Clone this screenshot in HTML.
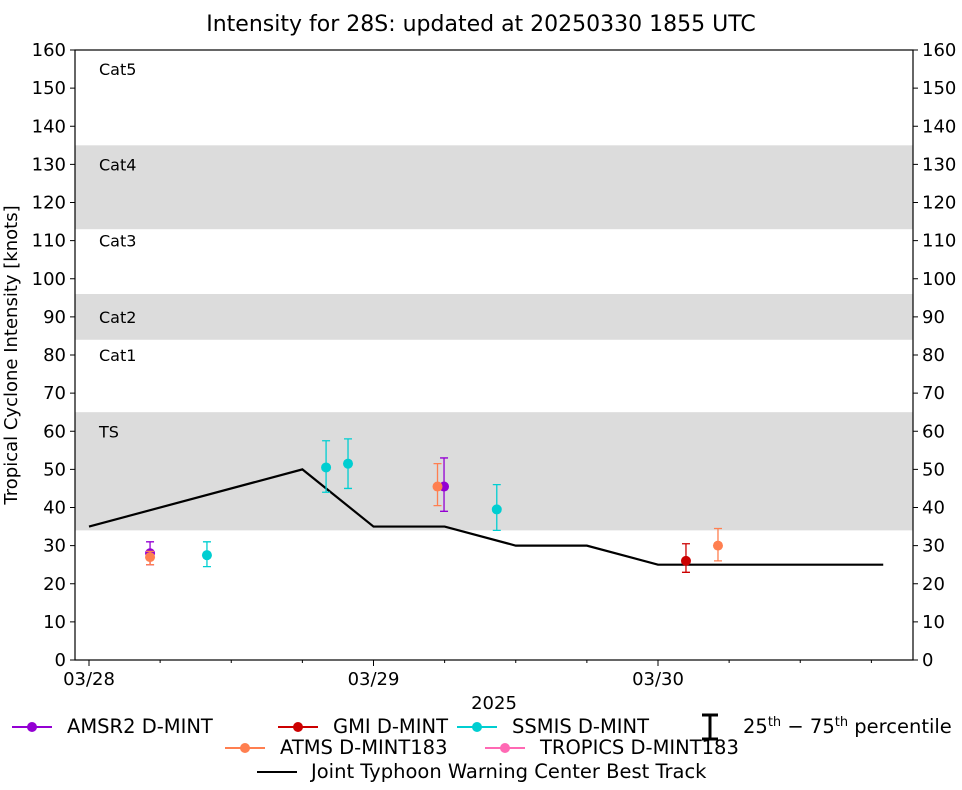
<!DOCTYPE html>
<html><head><meta charset="utf-8"><style>
body{margin:0;background:#fff;}
svg text{font-family:"DejaVu Sans","Liberation Sans",sans-serif;}
</style></head><body>
<svg id="c" width="962" height="785" viewBox="0 0 962 785">
<text x="481" y="31" font-size="22" text-anchor="middle">Intensity for 28S: updated at 20250330 1855 UTC</text>
<g id="bands"></g>
<g id="axes"></g>
<g id="track"></g>
<g id="pts"></g>
<g id="legend" font-size="19.5">
<g><line x1="12" y1="727" x2="52" y2="727" stroke="#9400d3" stroke-width="2"/><circle cx="32" cy="727" r="5" fill="#9400d3"/><text x="67" y="733">AMSR2 D-MINT</text></g>
<g><line x1="278" y1="727" x2="318" y2="727" stroke="#cc0000" stroke-width="2"/><circle cx="298" cy="727" r="5" fill="#cc0000"/><text x="333" y="733">GMI D-MINT</text></g>
<g><line x1="457" y1="727" x2="497" y2="727" stroke="#00ced1" stroke-width="2"/><circle cx="477" cy="727" r="5" fill="#00ced1"/><text x="512" y="733">SSMIS D-MINT</text></g>
<g><path d="M702 715H718M710 715V739M702 739H718" stroke="#000" stroke-width="3" fill="none"/><text x="743" y="733">25<tspan font-size="13" dy="-7">th</tspan><tspan dy="7"> − 75</tspan><tspan font-size="13" dy="-7">th</tspan><tspan dy="7"> percentile</tspan></text></g>
<g><line x1="225" y1="748" x2="265" y2="748" stroke="#ff7f50" stroke-width="2"/><circle cx="245" cy="748" r="5" fill="#ff7f50"/><text x="280" y="754">ATMS D-MINT183</text></g>
<g><line x1="485" y1="748" x2="525" y2="748" stroke="#ff69b4" stroke-width="2"/><circle cx="505" cy="748" r="5" fill="#ff69b4"/><text x="540" y="754">TROPICS D-MINT183</text></g>
<g><line x1="257" y1="772" x2="297" y2="772" stroke="#000" stroke-width="2"/><text x="311" y="778">Joint Typhoon Warning Center Best Track</text></g>
</g>
</svg>
<script>
const NS="http://www.w3.org/2000/svg";
const bandLo=[34,84,113];
const bandHi=[65,96,135];
const catNames=["TS","Cat1","Cat2","Cat3","Cat4","Cat5"];
const catVals=[60,80,90,110,130,155];
const yTicks=[0,10,20,30,40,50,60,70,80,90,100,110,120,130,140,150,160];
const dayLabels=["03/28","03/29","03/30"];
const trackHours=[0,18,24,30,36,42,48,54,60,67];
const trackVals=[35,50,35,35,30,30,25,25,25,25];
const amsr2Hours=[5.15,29.95];const amsr2Vals=[28,45.5];const amsr2Lo=[25,39];const amsr2Hi=[31,53];
const atmsHours=[5.15,29.4,53.06];const atmsVals=[27,45.5,30];const atmsLo=[25,40.5,26];const atmsHi=[28.5,51.5,34.5];
const ssmisHours=[9.95,20,21.85,34.4];const ssmisVals=[27.5,50.5,51.5,39.5];const ssmisLo=[24.5,44,45,34];const ssmisHi=[31,57.5,58,46];
const gmiHours=[50.36];const gmiVals=[26];const gmiLo=[23];const gmiHi=[30.5];
const X0=75,X1=913,Y0=50,Y1=660;
const x=h=>89+h*284.5/24, y=v=>Y1-v*(Y1-Y0)/160;
function mk(t,a,p){const e=document.createElementNS(NS,t);for(const k in a)e.setAttribute(k,a[k]);p.appendChild(e);return e;}
const bands=document.getElementById('bands');
bandLo.forEach((lo,i)=>{const r=mk('rect',{x:X0,y:y(bandHi[i]),width:X1-X0,height:y(lo)-y(bandHi[i]),fill:'#dcdcdc'},bands);

});
catNames.forEach((n,i)=>{const t=mk('text',{x:99,y:y(catVals[i])+6,'font-size':16},bands);t.textContent=n;

});
const ax=document.getElementById('axes');
mk('rect',{x:X0,y:Y0,width:X1-X0,height:Y1-Y0,fill:'none',stroke:'#000','stroke-width':1.2},ax);
yTicks.forEach(v=>{const yy=y(v);
mk('line',{x1:X0-5,x2:X0,y1:yy,y2:yy,stroke:'#000'},ax);mk('line',{x1:X1,x2:X1+5,y1:yy,y2:yy,stroke:'#000'},ax);
let t=mk('text',{x:X0-9,y:yy+6,'font-size':18,'text-anchor':'end'},ax);t.textContent=v;


t=mk('text',{x:X1+9,y:yy+6,'font-size':18},ax);t.textContent=v;

});
for(let h=0;h<=66;h+=6){const xx=x(h);const major=h%24==0;mk('line',{x1:xx,x2:xx,y1:Y1,y2:Y1+(major?6:3),stroke:'#000'},ax);}
dayLabels.forEach((d,i)=>{const t=mk('text',{x:x(i*24),y:Y1+25,'font-size':18,'text-anchor':'middle'},ax);t.textContent=d;

});
let t=mk('text',{x:494,y:709,'font-size':18,'text-anchor':'middle'},ax);t.textContent='2025';


t=mk('text',{x:0,y:0,'font-size':18,'text-anchor':'middle',transform:'translate(17,355) rotate(-90)'},ax);t.textContent='Tropical Cyclone Intensity [knots]';


const tr=document.getElementById('track');
const pl=mk('polyline',{points:trackHours.map((h,i)=>x(h)+','+y(trackVals[i])).join(' '),fill:'none',stroke:'#000','stroke-width':2.2},tr);


const P=document.getElementById('pts');
function series(hs,vs,lo,hi,col,name){hs.forEach((h,i)=>{const g=mk('g',{},P);


const xx=x(h);mk('path',{d:`M${xx-4} ${y(hi[i])}H${xx+4}M${xx} ${y(hi[i])}V${y(lo[i])}M${xx-4} ${y(lo[i])}H${xx+4}`,stroke:col,'stroke-width':1.3,fill:'none'},g);
mk('circle',{cx:xx,cy:y(vs[i]),r:5,fill:col},g);});}
series(amsr2Hours,amsr2Vals,amsr2Lo,amsr2Hi,'#9400d3','amsr2');
series(atmsHours,atmsVals,atmsLo,atmsHi,'#ff7f50','atms');
series(ssmisHours,ssmisVals,ssmisLo,ssmisHi,'#00ced1','ssmis');
series(gmiHours,gmiVals,gmiLo,gmiHi,'#cc0000','gmi');
</script>
</body></html>
